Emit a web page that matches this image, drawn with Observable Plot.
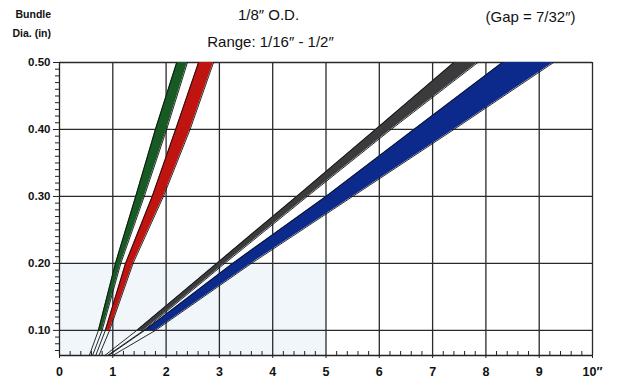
<!DOCTYPE html>
<html>
<head>
<meta charset="utf-8">
<script src="https://cdn.jsdelivr.net/npm/d3@7"></script>
<script src="https://cdn.jsdelivr.net/npm/@observablehq/plot@0.6"></script>
<style>
  html, body { margin: 0; padding: 0; background: #fff; }
</style>
</head>
<body>
<div id="chart"></div>
<script>
// Bundle diameter levels (in)
const ys = [0.0625, 0.1, 0.2, 0.3, 0.4, 0.5];
// Edges of each band (x value at each bundle diameter)
const greenLeft  = [0.56, 0.73, 1.05, 1.43, 1.80, 2.20];
const greenRight = [0.62, 0.80, 1.15, 1.59, 2.01, 2.40];
const redLeft    = [0.68, 0.86, 1.24, 1.74, 2.18, 2.61];
const redRight   = [0.74, 0.94, 1.38, 1.95, 2.45, 2.89];
const grayLeft   = [0.85, 1.45, 2.95, 4.45, 5.93, 7.40];
const grayRight  = [0.90, 1.58, 3.10, 4.65, 6.22, 7.85];
const blueLeft   = [0.92, 1.60, 3.25, 5.00, 6.65, 8.31];
const blueRight  = [1.00, 1.80, 3.60, 5.50, 7.40, 9.27];

const bandNames  = ["A", "B", "C", "D"];
const bandColors = ["#175a24", "#c01410", "#3b3b3d", "#0b2a8c"];

const xTicks = [0, 1, 2, 3, 4, 5, 6, 7, 8, 9, 10];
const yTicks = [0.1, 0.2, 0.3, 0.4, 0.5];
const xMinor = d3.range(1, 50).filter(i => i % 5 !== 0).map(i => i / 5);
const yMinor = d3.range(7, 50).filter(i => i % 10 !== 0).map(i => i / 100);

const edges = [[greenLeft, greenRight], [redLeft, redRight], [grayLeft, grayRight], [blueLeft, blueRight]];
const rows = [];
bandNames.forEach((b, i) => {
  ys.forEach((y, j) => rows.push({band: b, y, x1: edges[i][0][j], x2: edges[i][1][j]}));
});
const fillRows = rows.filter(d => d.y >= 0.1);

const shade = [{x1: 0, x2: 5, y1: 0.0625, y2: 0.2}];

const W = 618, H = 387, ML = 59, MR = 26, MT = 62, MB = 32;

const label = (t, dx, dy, size, weight, anchor) =>
  Plot.text([t], {frameAnchor: "top-left", dx, dy, fontSize: size, fontWeight: weight,
    textAnchor: anchor, lineAnchor: "middle", text: d => d, fill: "#111"});

const chart = Plot.plot({
  width: W,
  height: H,
  marginLeft: ML,
  marginRight: MR,
  marginTop: MT,
  marginBottom: MB,
  x: {type: "linear", domain: [0, 10], axis: null},
  y: {type: "linear", domain: [0.0625, 0.5], axis: null},
  color: {domain: bandNames, range: bandColors},
  style: {fontFamily: "'Liberation Sans', Arial, sans-serif", background: "#fff", color: "#111"},
  marks: [
    Plot.rect(shade, {x1: "x1", x2: "x2", y1: "y1", y2: "y2", fill: "#f1f6fb"}),
    Plot.gridX(xTicks.slice(1), {stroke: "#2a2a2a", strokeOpacity: 1, strokeWidth: 1.3}),
    Plot.gridY(yTicks, {stroke: "#2a2a2a", strokeOpacity: 1, strokeWidth: 1.3}),
    Plot.areaX(fillRows, {y: "y", x1: "x1", x2: "x2", z: "band", fill: "band"}),
    Plot.lineX(rows, {x: "x1", y: "y", z: "band", stroke: "#111", strokeWidth: 0.9}),
    Plot.lineX(rows, {x: "x2", y: "y", z: "band", stroke: "#111", strokeWidth: 0.9}),
    Plot.ruleX([0], {stroke: "#222", strokeWidth: 1.3}),
    Plot.ruleY([0.0625], {stroke: "#222", strokeWidth: 1.5}),
    // minor ruler ticks
    Plot.tickY(yMinor, {y: d => d, insetRight: W - ML - MR - 5, dx: -4, stroke: "#222", strokeWidth: 1}),
    Plot.tickX(xMinor, {x: d => d, insetTop: H - MT - MB - 4, stroke: "#222", strokeWidth: 1}),
    // major labels
    Plot.axisY(yTicks, {anchor: "left", tickSize: 6, tickPadding: 3, tickFormat: d => d.toFixed(2),
      fontSize: 11.5, fontWeight: "bold", stroke: "#222"}),
    Plot.axisX(xTicks, {anchor: "bottom", tickSize: 3, tickPadding: 9, tickFormat: d => d === 10 ? "10\u2033" : String(d),
      fontSize: 12.5, fontWeight: "bold", stroke: "#222"}),
    // titles
    label("Bundle", -44, -48, 10.5, "bold", "start"),
    label("Dia. (in)", -47, -29, 10.5, "bold", "start"),
    label("1/8\u2033 O.D.", 209, -47, 15, "normal", "middle"),
    label("Range: 1/16\u2033 - 1/2\u2033", 211, -20, 15, "normal", "middle"),
    label("(Gap = 7/32\u2033)", 471, -45, 15, "normal", "middle")
  ]
});
document.getElementById("chart").appendChild(chart);
</script>
</body>
</html>
